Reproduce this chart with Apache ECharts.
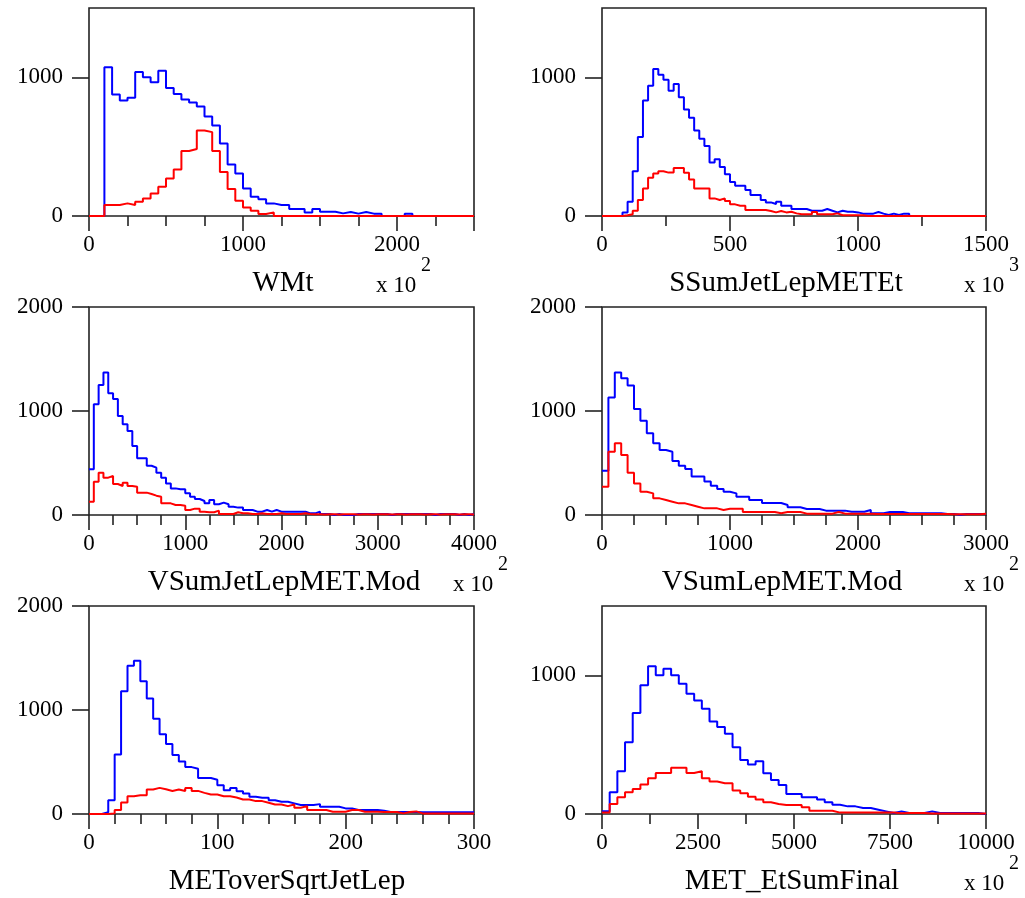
<!DOCTYPE html>
<html>
<head>
<meta charset="utf-8">
<script src="https://cdn.jsdelivr.net/npm/echarts@6/dist/echarts.min.js"></script>
<style>
html, body { margin: 0; padding: 0; background: #fff; }
#main { width: 1025px; height: 898px; }
</style>
</head>
<body>
<div id="main"></div>
<script>
// Bin contents per histogram (blue = all events, red = selected subset)
const wmtBlue = [0,0,1072,876,833,852,1038,1000,964,1048,923,880,840,818,789,718,653,522,371,306,199,139,120,91,
  79,79,50,50,26,50,31,31,19,29,17,29,17,17,0,0,0,17,0,0,0,0,0,0,0,0];
const wmtRed = [0,0,79,79,91,79,103,127,163,211,270,335,469,483,617,605,469,318,194,110,62,38,14,26,
  0,0,0,0,0,0,0,0,0,0,0,0,0,0,0,0,0,0,0,0,0,0,0,0,0,0];

const ssumBlue = [0,0,0,0,26,103,323,569,833,940,1060,1019,983,904,952,856,768,708,617,557,505,385,409,354,301,
  246,218,218,187,151,151,115,98,86,103,74,74,50,50,50,38,38,38,50,38,26,38,31,31,26,17,17,17,29,17,7,17,7,17,17,
  0,0,0,0,0,0,0,0,0,0,0,0,0,0,0];
const ssumRed = [0,0,0,0,5,12,38,115,199,275,306,323,313,313,347,347,311,263,199,199,199,127,115,127,108,
  84,74,74,43,43,43,43,36,26,36,26,31,19,12,12,12,29,12,12,12,19,5,5,5,5,5,
  0,0,0,0,0,0,0,0,0,0,0,0,0,0,0,0,0,0,0,0,0,0,0,0];

const vjlBlue = [439,1064,1250,1369,1170,1115,952,872,808,663,545,545,474,455,407,359,304,256,247,247,
  208,176,154,135,112,144,103,119,103,80,71,71,48,48,32,32,48,32,48,32,32,32,32,32,32,16,16,32,
  10,10,0,10,0,0,0,10,10,10,10,10,10,10,0,10,10,10,10,10,10,10,10,0,10,10,10,10,0,10,0,10];
const vjlRed = [128,320,407,359,375,298,279,311,279,272,215,215,202,186,176,112,112,96,96,90,
  48,61,61,32,26,26,42,10,10,10,26,16,16,10,10,16,10,10,10,16,10,10,10,10,16,10,
  8,8,5,8,8,5,8,8,8,5,8,8,5,8,8,8,5,8,8,5,8,8,8,5,8,8,5,8,8,8,5,8,8,5];

const vlmBlue = [426,1131,1369,1314,1244,1019,907,785,689,625,609,519,474,442,369,369,321,282,250,224,
  208,176,176,144,144,115,115,115,96,74,74,58,58,58,42,42,42,42,32,32,32,48,16,16,29,29,29,16,16,16,
  16,16,16,10,10,2,10,10,10,10];
const vlmRed = [272,609,689,577,407,304,224,208,160,144,128,112,112,96,80,64,64,64,48,61,
  61,61,29,29,29,29,29,16,29,29,29,13,13,13,13,13,29,13,13,13,13,13,10,10,10,10,10,10,10,10,
  10,10,10,10,8,8,8,8,8,12];

const mosBlue = [0,0,16,133,571,1181,1425,1473,1276,1111,917,768,673,568,505,451,435,346,346,330,
  276,229,251,219,197,165,156,156,133,117,117,102,86,86,86,95,70,70,70,54,54,38,38,38,38,32,19,19,19,19,
  19,16,16,16,16,16,16,16,16,16];
const mosRed = [0,0,0,6,38,111,171,181,181,235,251,238,222,235,222,251,222,203,187,187,
  171,171,159,140,140,124,124,108,92,92,76,92,60,76,38,38,38,22,22,22,38,38,22,22,22,19,19,19,6,19,
  25,6,6,6,6,6,6,6,6,6];

const metBlue = [19,157,308,518,728,928,1065,1000,1048,1000,940,867,819,759,667,627,578,482,390,357,
  381,294,246,210,145,145,120,120,104,84,67,55,55,43,43,31,19,7,19,7,7,7,19,7,7,7,7,7,7,0];
const metRed = [10,72,120,157,181,212,258,296,296,333,333,296,308,258,234,222,222,169,149,125,
  104,84,72,65,65,65,48,24,24,24,10,10,10,10,10,10,10,10,5,7,7,7,3,3,3,3,3,3,3,3];

// Axis tick values
const yTicksLow = [0, 1000];
const yTicksHigh = [0, 1000, 2000];

const panels = [
  { title: 'WMt', blue: wmtBlue, red: wmtRed, bin: 50, xMax: 2500, major: 1000, minorSplit: 4,
    yMax: 1500, yTicks: yTicksLow, exp: '2', showMax: false },
  { title: 'SSumJetLepMETEt', blue: ssumBlue, red: ssumRed, bin: 20, xMax: 1500, major: 500, minorSplit: 2,
    yMax: 1500, yTicks: yTicksLow, exp: '3', showMax: true },
  { title: 'VSumJetLepMET.Mod', blue: vjlBlue, red: vjlRed, bin: 50, xMax: 4000, major: 1000, minorSplit: 4,
    yMax: 2000, yTicks: yTicksHigh, exp: '2', showMax: true },
  { title: 'VSumLepMET.Mod', blue: vlmBlue, red: vlmRed, bin: 50, xMax: 3000, major: 1000, minorSplit: 4,
    yMax: 2000, yTicks: yTicksHigh, exp: '2', showMax: true },
  { title: 'METoverSqrtJetLep', blue: mosBlue, red: mosRed, bin: 5, xMax: 300, major: 100, minorSplit: 5,
    yMax: 2000, yTicks: yTicksHigh, exp: null, showMax: true },
  { title: 'MET_EtSumFinal', blue: metBlue, red: metRed, bin: 200, xMax: 10000, major: 2500, minorSplit: 2,
    yMax: 1500, yTicks: yTicksLow, exp: '2', showMax: true }
];

// Frame placement and caption positions for each pad
const layout = [
  { left: 89,  top: 8,   width: 385, height: 208, titleX: 283, expX: 376 },
  { left: 602, top: 8,   width: 384, height: 208, titleX: 786, expX: 964 },
  { left: 89,  top: 307, width: 385, height: 208, titleX: 284, expX: 453 },
  { left: 602, top: 307, width: 384, height: 208, titleX: 782, expX: 964 },
  { left: 89,  top: 606, width: 385, height: 208, titleX: 287, expX: 0 },
  { left: 602, top: 606, width: 384, height: 208, titleX: 792, expX: 964 }
];

const FONT = '"Liberation Serif", "DejaVu Serif", serif';
const INK = '#222';
const plain = v => String(v);

function histPoints(values, bin) {
  const pts = values.map((v, i) => [i * bin, v]);
  pts.push([values.length * bin, values[values.length - 1]]);
  return pts;
}

const grids = [], xAxes = [], yAxes = [], series = [], graphics = [];

panels.forEach((p, i) => {
  const L = layout[i];
  grids.push({
    left: L.left, top: L.top, width: L.width, height: L.height,
    show: true, borderColor: INK, borderWidth: 1.6, backgroundColor: 'transparent'
  });
  xAxes.push({
    type: 'value', gridIndex: i, min: 0, max: p.xMax, interval: p.major,
    axisLine: { show: false },
    axisTick: { show: true, length: 15, lineStyle: { color: INK, width: 1.6 } },
    minorTick: { show: true, splitNumber: p.minorSplit, length: 10, lineStyle: { color: INK, width: 1.6 } },
    splitLine: { show: false },
    axisLabel: { show: true, margin: 17, fontFamily: FONT, fontSize: 23, color: '#000',
      formatter: plain, showMaxLabel: p.showMax, showMinLabel: true }
  });
  yAxes.push({
    type: 'value', gridIndex: i, min: 0, max: p.yMax,
    axisLine: { show: false },
    axisTick: { show: true, length: 17, customValues: p.yTicks, lineStyle: { color: INK, width: 1.6 } },
    splitLine: { show: false },
    axisLabel: { show: true, margin: 26, customValues: p.yTicks, formatter: plain,
      fontFamily: FONT, fontSize: 23, color: '#000' }
  });
  series.push({
    type: 'line', xAxisIndex: i, yAxisIndex: i, step: 'end', symbol: 'none',
    data: histPoints(p.blue, p.bin), lineStyle: { color: '#0000ff', width: 2 }, z: 3
  });
  series.push({
    type: 'line', xAxisIndex: i, yAxisIndex: i, step: 'end', symbol: 'none',
    data: histPoints(p.red, p.bin), lineStyle: { color: '#ff0000', width: 2 }, z: 4
  });

  const capY = L.top + L.height + 67;
  graphics.push({
    type: 'text', x: L.titleX, y: capY,
    style: { text: p.title, font: '29px ' + FONT, fill: '#000', textAlign: 'center', textVerticalAlign: 'middle' }
  });
  if (p.exp) {
    graphics.push({
      type: 'text', x: L.expX, y: capY + 3,
      style: { text: 'x 10', font: '23px ' + FONT, fill: '#000', textAlign: 'left', textVerticalAlign: 'middle' }
    });
    graphics.push({
      type: 'text', x: L.expX + 45, y: capY - 17,
      style: { text: p.exp, font: '20px ' + FONT, fill: '#000', textAlign: 'left', textVerticalAlign: 'middle' }
    });
  }
});

const chart = echarts.init(document.getElementById('main'), null, { renderer: 'canvas' });
chart.setOption({
  backgroundColor: '#fff',
  animation: false,
  grid: grids,
  xAxis: xAxes,
  yAxis: yAxes,
  series: series,
  graphic: graphics
});
</script>
</body>
</html>
